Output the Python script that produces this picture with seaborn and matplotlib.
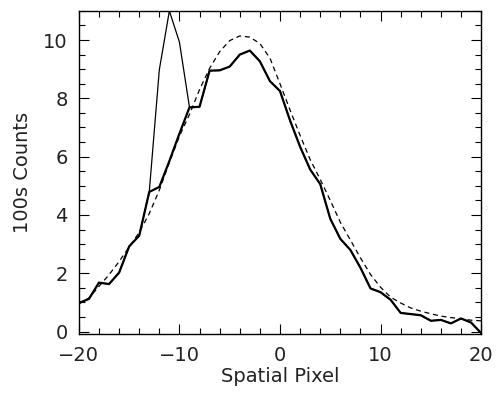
import numpy as np
import pandas as pd
import matplotlib
matplotlib.use("Agg")
import matplotlib.pyplot as plt
from matplotlib.ticker import MultipleLocator
import seaborn as sns

pixels = list(range(-20, 21))
counts_clean = [0.98, 1.12, 1.68, 1.63, 2.02, 2.92, 3.29, 4.79, 4.96, 5.85, 6.79,
                7.69, 7.71, 8.95, 8.96, 9.09, 9.5, 9.64, 9.27, 8.59, 8.25,
                7.24, 6.34, 5.56, 5.06, 3.87, 3.18, 2.8, 2.19, 1.48, 1.35,
                1.09, 0.64, 0.6, 0.56, 0.37, 0.4, 0.28, 0.45, 0.31, -0.05]
counts_raw = list(counts_clean)
counts_raw[8] = 8.98   # x=-12
counts_raw[9] = 11.0   # x=-11
counts_raw[10] = 9.93  # x=-10
counts_fit = [0.95, 1.15, 1.55, 1.95, 2.4, 2.9, 3.4, 4.05, 4.85, 5.8, 6.7,
              7.45, 8.3, 9.03, 9.6, 9.98, 10.14, 10.1, 9.88, 9.38, 8.5,
              7.6, 6.73, 5.9, 5.22, 4.5, 3.75, 3.14, 2.53, 1.96, 1.52,
              1.18, 0.98, 0.81, 0.7, 0.61, 0.53, 0.48, 0.44, 0.39, 0.37]

df = pd.DataFrame({"x": pixels, "raw": counts_raw, "clean": counts_clean, "fit": counts_fit})

sns.set_theme(style="ticks")
plt.rcParams["font.family"] = ["DejaVu Sans"]

fig = plt.figure(figsize=(4.96, 4.03), dpi=100)
ax = fig.add_axes([0.159, 0.17, 0.811, 0.803])

sns.lineplot(data=df, x="x", y="raw", ax=ax, color="black", linewidth=0.9)
sns.lineplot(data=df, x="x", y="clean", ax=ax, color="black", linewidth=1.6)
sns.lineplot(data=df, x="x", y="fit", ax=ax, color="black", linewidth=0.9,
             linestyle=(0, (4, 3)))

ax.set_xlim(-20, 20)
ax.set_ylim(-0.1, 11)
ax.xaxis.set_major_locator(MultipleLocator(10))
ax.xaxis.set_minor_locator(MultipleLocator(2))
ax.yaxis.set_major_locator(MultipleLocator(2))
ax.yaxis.set_minor_locator(MultipleLocator(0.5))
ax.tick_params(which="both", direction="in", top=True, right=True,
               labelsize=14, color="black", width=0.8)
ax.tick_params(which="major", length=7, pad=8)
ax.tick_params(which="minor", length=4)
for s in ax.spines.values():
    s.set_color("black")
    s.set_linewidth(1.0)
ax.set_xticks([-20, -10, 0, 10, 20])
ax.set_xticklabels(["\u221220", "\u221210", "0", "10", "20"])
ax.set_xlabel("Spatial Pixel", fontsize=14, color="#222222", labelpad=2)
ax.set_ylabel("100s Counts", fontsize=14, color="#222222", labelpad=8)
for lab in ax.get_xticklabels() + ax.get_yticklabels():
    lab.set_color("#222222")

fig.savefig("out.png", dpi=100)
